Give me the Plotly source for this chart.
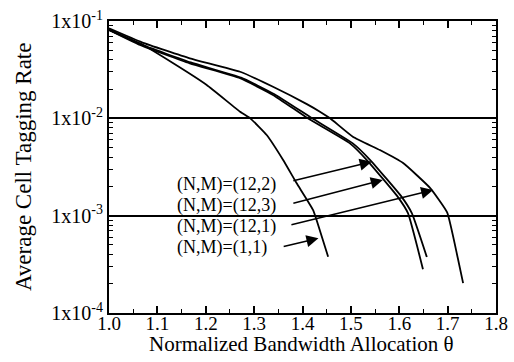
import plotly.graph_objects as go

# Simulated average cell tagging rate vs. normalized bandwidth allocation
theta_11 = [1.000, 1.064, 1.132, 1.202, 1.271, 1.292, 1.326, 1.360, 1.388, 1.422, 1.440, 1.453]
rate_11 = [0.0808, 0.0590, 0.0370, 0.0220, 0.0117, 0.0100, 0.00674, 0.00373, 0.00215, 0.00114, 0.000607, 0.000378]

theta_121 = [1.000, 1.068, 1.167, 1.271, 1.339, 1.409, 1.436, 1.457, 1.504, 1.560, 1.608, 1.664, 1.699, 1.721, 1.732]
rate_121 = [0.0841, 0.0604, 0.0414, 0.0301, 0.0211, 0.0140, 0.0117, 0.0100, 0.00647, 0.00472, 0.00347, 0.00192, 0.00108, 0.000367, 0.000203]

theta_122 = [1.000, 1.066, 1.169, 1.273, 1.342, 1.420, 1.504, 1.540, 1.605, 1.626, 1.657]
rate_122 = [0.0815, 0.0575, 0.0375, 0.0262, 0.0177, 0.0100, 0.00553, 0.00373, 0.00156, 0.00106, 0.000376]

theta_123 = [1.000, 1.064, 1.167, 1.271, 1.339, 1.411, 1.498, 1.533, 1.597, 1.618, 1.649]
rate_123 = [0.0808, 0.0567, 0.0367, 0.0258, 0.0174, 0.0100, 0.00553, 0.00373, 0.00156, 0.00106, 0.000282]

series = [
    ("(N,M)=(1,1)", theta_11, rate_11),
    ("(N,M)=(12,1)", theta_121, rate_121),
    ("(N,M)=(12,2)", theta_122, rate_122),
    ("(N,M)=(12,3)", theta_123, rate_123),
]

# Curve labels: text position (theta, log10 rate), arrow tail and head
label_names = ["(N,M)=(12,2)", "(N,M)=(12,3)", "(N,M)=(12,1)", "(N,M)=(1,1)"]
label_x = [1.1385, 1.1385, 1.1385, 1.1385]
label_y = [-2.683, -2.899, -3.114, -3.322]
arrow_tail_x = [1.378, 1.378, 1.374, 1.358]
arrow_tail_y = [-2.645, -2.876, -3.097, -3.320]
arrow_head_x = [1.543, 1.566, 1.670, 1.433]
arrow_head_y = [-2.446, -2.634, -2.737, -3.233]

x_major = [1.0, 1.1, 1.2, 1.3, 1.4, 1.5, 1.6, 1.7, 1.8]
x_minor = [1.05, 1.15, 1.25, 1.35, 1.45, 1.55, 1.65, 1.75]
y_major = [1e-4, 1e-3, 1e-2, 1e-1]
y_labels = ["1x10<sup>-4</sup>", "1x10<sup>-3</sup>", "1x10<sup>-2</sup>", "1x10<sup>-1</sup>"]
y_minor = [m * d for d in (1e-4, 1e-3, 1e-2) for m in range(2, 10)]

serif = "Liberation Serif"

fig = go.Figure()
for name, xs, ys in series:
    fig.add_trace(go.Scatter(x=xs, y=ys, mode="lines", name=name,
                             line=dict(color="black", width=1.8, shape="spline", smoothing=0.4),
                             showlegend=False))

annotations = []
for name, lx, ly in zip(label_names, label_x, label_y):
    annotations.append(dict(x=lx, y=ly, xref="x", yref="y", text=name, showarrow=False,
                            xanchor="left", yanchor="middle", borderpad=0,
                            font=dict(family=serif, size=18, color="black")))
for tx, ty, hx, hy in zip(arrow_tail_x, arrow_tail_y, arrow_head_x, arrow_head_y):
    annotations.append(dict(x=hx, y=hy, ax=tx, ay=ty, xref="x", yref="y", axref="x", ayref="y",
                            text="", showarrow=True, arrowhead=2, arrowsize=1.6,
                            arrowwidth=1.5, arrowcolor="black"))

# Axis titles
annotations.append(dict(x=0.4987, y=-0.107, xref="paper", yref="paper",
                        text="Normalized Bandwidth Allocation θ", showarrow=False,
                        xanchor="center", yanchor="middle",
                        font=dict(family=serif, size=21, color="black")))
annotations.append(dict(x=-0.222, y=0.5, xref="paper", yref="paper", textangle=-90,
                        text="Average Cell Tagging Rate", showarrow=False,
                        xanchor="center", yanchor="middle",
                        font=dict(family=serif, size=23, color="black")))

fig.update_layout(
    width=514, height=362,
    margin=dict(l=109, r=18, t=21, b=49, autoexpand=False),
    paper_bgcolor="white", plot_bgcolor="white",
    font=dict(family=serif, size=18, color="black"),
    annotations=annotations,
    xaxis=dict(
        range=[1.0, 1.8], tickmode="array", tickvals=x_major,
        ticktext=[f"{v:.1f}" for v in x_major],
        ticks="inside", ticklen=7, tickwidth=1.5, tickcolor="black",
        showline=True, linecolor="black", linewidth=2, mirror="ticks",
        showgrid=False, zeroline=False, automargin=False, ticklabelstandoff=-8,
        minor=dict(tickmode="array", tickvals=x_minor, ticks="inside", ticklen=4,
                   tickwidth=1.2, tickcolor="black", showgrid=False),
        tickfont=dict(family=serif, size=19),
    ),
    yaxis=dict(
        type="log", range=[-4, -1], tickmode="array", tickvals=y_major, ticktext=y_labels,
        ticks="inside", ticklen=7, tickwidth=1.5, tickcolor="black",
        showline=True, linecolor="black", linewidth=2, mirror="ticks",
        showgrid=True, gridcolor="black", gridwidth=1.5, zeroline=False, automargin=False,
        minor=dict(tickmode="array", tickvals=y_minor, ticks="inside", ticklen=4,
                   tickwidth=1.2, tickcolor="black", showgrid=False),
        tickfont=dict(family=serif, size=20),
    ),
)

fig.write_html("out.html")
